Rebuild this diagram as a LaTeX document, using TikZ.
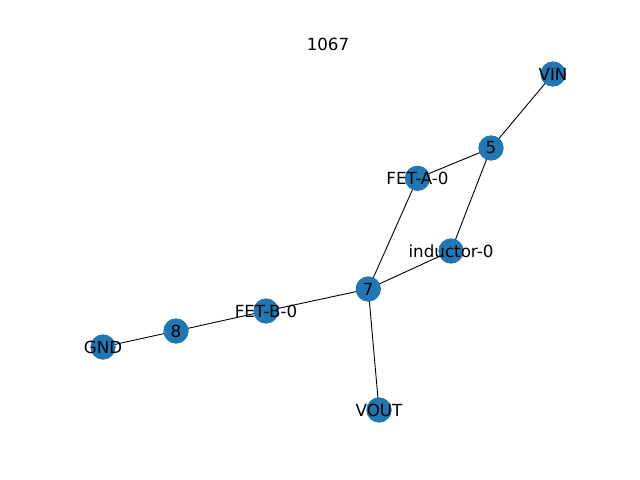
\documentclass[tikz,border=0pt]{standalone}
\usepackage{fontspec}
\setmainfont{DejaVu Sans}
\begin{document}
\begin{tikzpicture}[x=1bp,y=-1bp,
  vtx/.style={circle,fill=vcol,minimum size=25bp,inner sep=0pt},
  lbl/.style={font=\fontsize{16.7bp}{19bp}\selectfont,inner sep=0pt},
  edge/.style={black,line width=0.9bp}]
\definecolor{vcol}{HTML}{1F77B4}
\useasboundingbox (0,0) rectangle (640,480);
\node[lbl] (title) at (328,44) {1067};
\node[vtx] (vin) at (553,74) {};
\node[vtx] (n5) at (491,148) {};
\node[vtx] (feta) at (417.5,178.3) {};
\node[vtx] (ind) at (451,251) {};
\node[vtx] (n7) at (368.3,289) {};
\node[vtx] (fetb) at (266,311) {};
\node[vtx] (n8) at (176,331) {};
\node[vtx] (gnd) at (103,347) {};
\node[vtx] (vout) at (379,410) {};
\draw[edge] (vin.center) -- (n5.center);
\draw[edge] (n5.center) -- (feta.center);
\draw[edge] (n5.center) -- (ind.center);
\draw[edge] (feta.center) -- (n7.center);
\draw[edge] (ind.center) -- (n7.center);
\draw[edge] (n7.center) -- (fetb.center);
\draw[edge] (n7.center) -- (vout.center);
\draw[edge] (fetb.center) -- (n8.center);
\draw[edge] (n8.center) -- (gnd.center);
\foreach \n in {vin,n5,feta,ind,n7,fetb,n8,gnd,vout}{
  \fill[vcol] (\n) circle (12.5bp);
}
\node[lbl] (tvin) at (vin) {VIN};
\node[lbl] (tn5) at (n5) {5};
\node[lbl] (tfeta) at (feta) {FET-A-0};
\node[lbl] (tind) at (ind) {inductor-0};
\node[lbl] (tn7) at (n7) {7};
\node[lbl] (tfetb) at (fetb) {FET-B-0};
\node[lbl] (tn8) at (n8) {8};
\node[lbl] (tgnd) at (gnd) {GND};
\node[lbl] (tvout) at (vout) {VOUT};
\end{tikzpicture}
\end{document}
